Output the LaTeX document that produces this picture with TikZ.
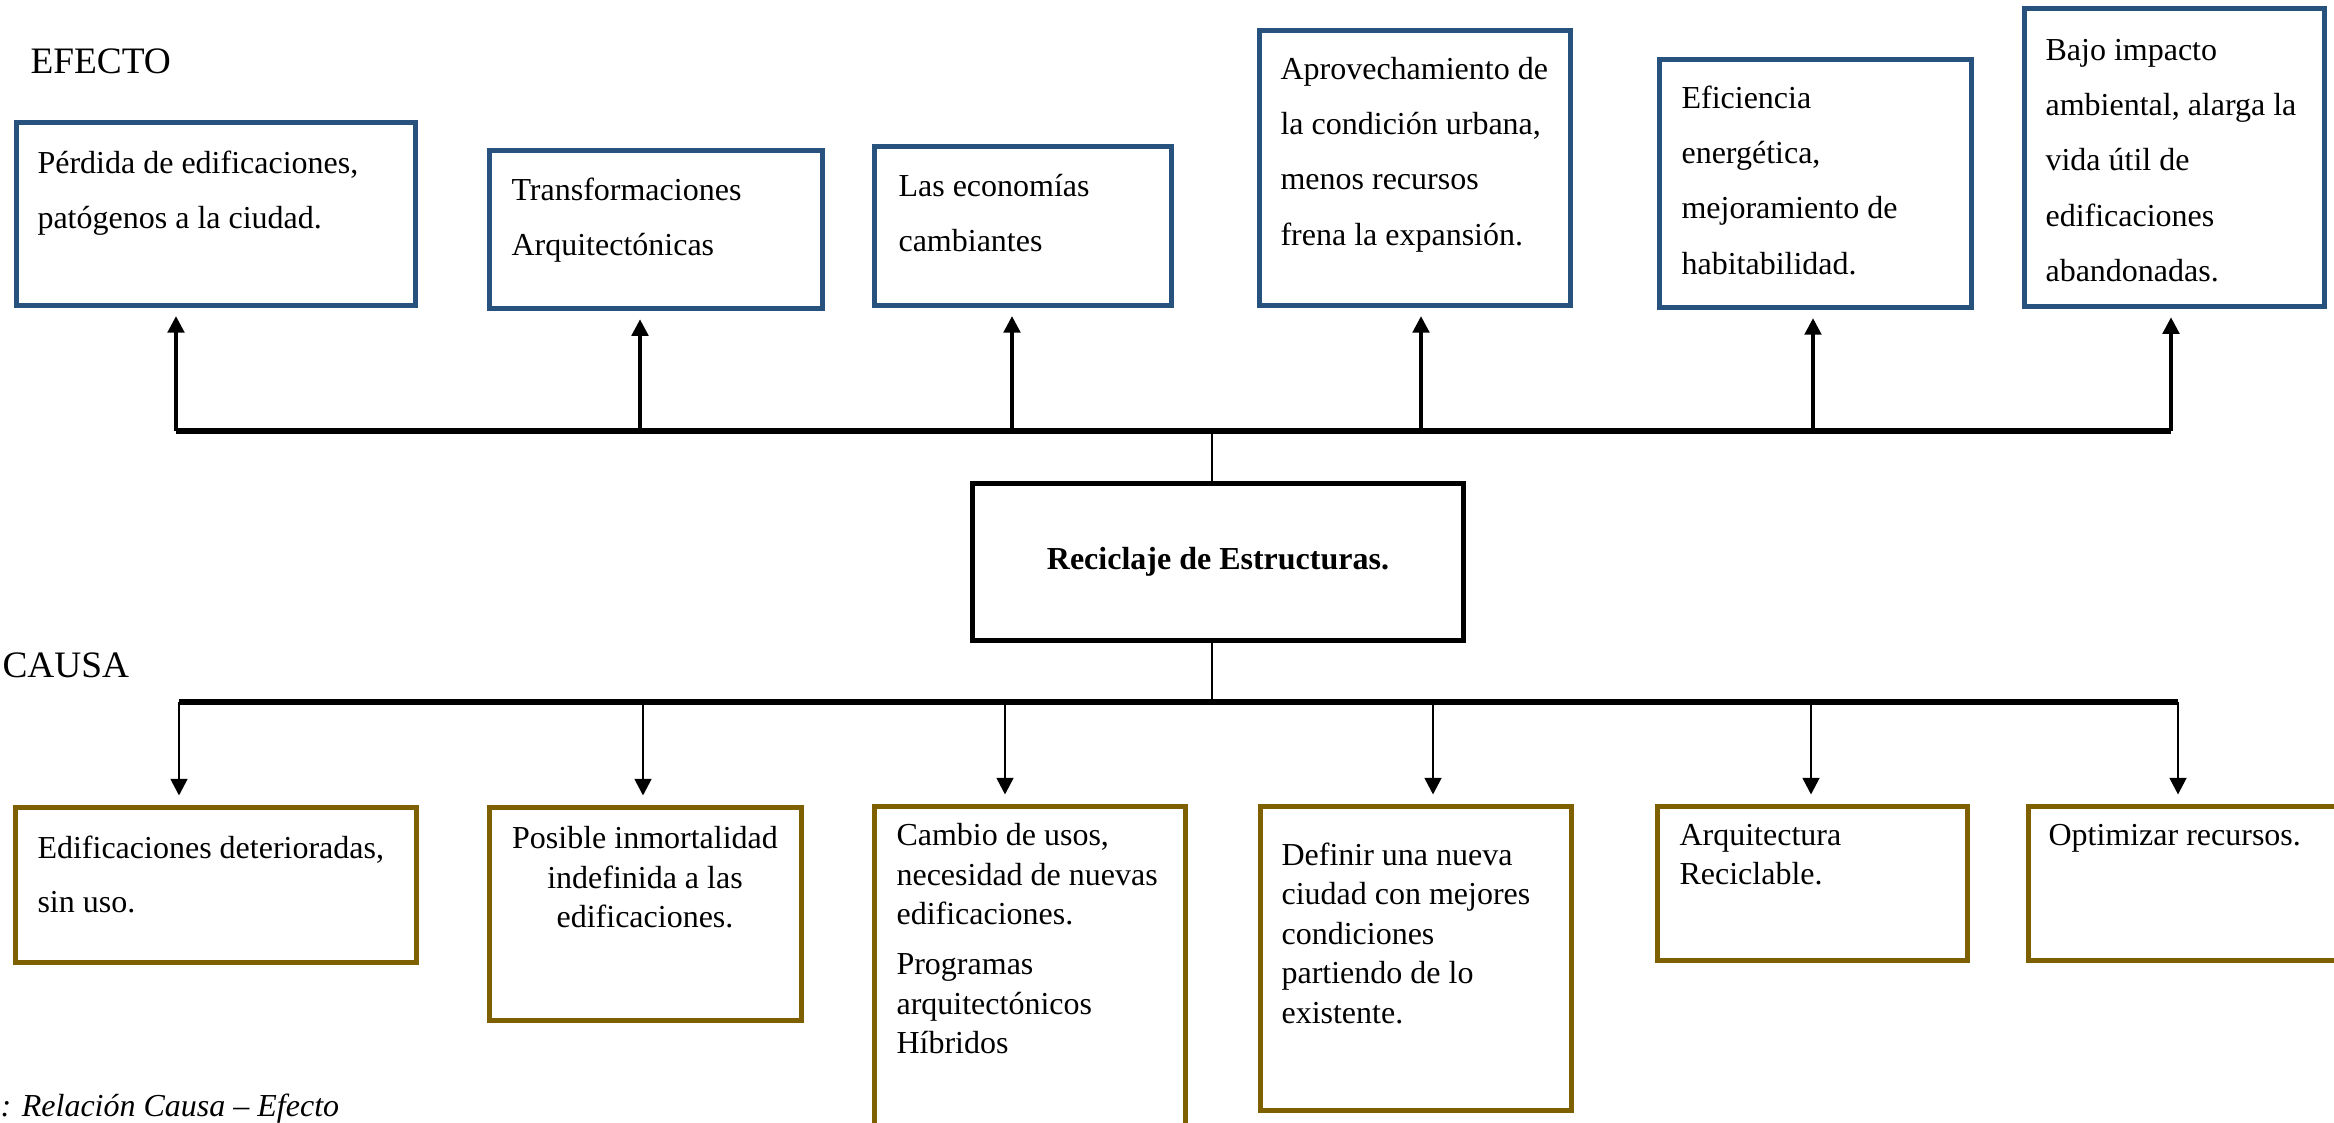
\documentclass[tikz,border=0pt]{standalone}
\usepackage{fontspec}
\setmainfont{Liberation Serif}
\usetikzlibrary{arrows.meta}

\definecolor{efblue}{RGB}{38,82,125}
\definecolor{caubrown}{RGB}{127,96,0}

\tikzset{
  effbox/.style={draw=efblue, line width=1.9pt, anchor=north west, inner sep=0pt, outer sep=0pt},
  caubox/.style={draw=caubrown, line width=1.9pt, anchor=north west, inner sep=0pt, outer sep=0pt},
  recbox/.style={draw, line width=1.9pt, anchor=north west, outer sep=0pt, font=\fontsize{12pt}{14pt}\selectfont\bfseries},
  efftext/.style={anchor=north west, inner sep=0pt, align=left, font=\fontsize{12pt}{20.7pt}\selectfont},
  cautext/.style={anchor=north west, inner sep=0pt, align=left, font=\fontsize{12pt}{14.8pt}\selectfont},
  title/.style={anchor=base west, inner sep=0pt, font=\fontsize{14pt}{16pt}\selectfont},
  caption/.style={anchor=base west, inner sep=0pt, font=\fontsize{12pt}{14pt}\selectfont\itshape},
  bar/.style={line width=2.2pt},
  stem/.style={line width=1pt},
  uparrow/.style={->, line width=1.3pt, shorten >=4pt},
  downarrow/.style={->, line width=1pt, shorten >=4.5pt}
}

\begin{document}
\begin{tikzpicture}[x=0.375pt, y=-0.375pt, >={Triangle[width=6.2pt,length=6.2pt]}]
  \useasboundingbox (0,0) rectangle (2334,1122);
  \clip (0,0) rectangle (2334,1122);

  % titulos
  \node[title] (efecto) at (30,73) {EFECTO};
  \node[title] (causa) at (2,677) {CAUSA};
  \node[caption] (leyenda) at (0,1116) {: Relación Causa – Efecto};

  % efectos
  \node[effbox, minimum width=149.6pt, minimum height=68.6pt] (e1) at (16.5,122.5) {};
  \node[effbox, minimum width=124.9pt, minimum height=59.3pt] (e2) at (489.5,150.5) {};
  \node[effbox, minimum width=111.4pt, minimum height=59.6pt] (e3) at (874.5,146.5) {};
  \node[effbox, minimum width=116.6pt, minimum height=103.1pt] (e4) at (1259.5,30.5) {};
  \node[effbox, minimum width=117pt, minimum height=93pt] (e5) at (1659.5,59.5) {};
  \node[effbox, minimum width=112.5pt, minimum height=111.8pt] (e6) at (2024.5,8.5) {};

  \node[efftext] (e1t) at (37,134.4) {\strut Pérdida de edificaciones,\\patógenos a la ciudad.};
  \node[efftext] (e2t) at (511,161.4) {\strut Transformaciones\\Arquitectónicas};
  \node[efftext] (e3t) at (898,157.4) {\strut Las economías\\cambiantes};
  \node[efftext] (e4t) at (1280,40.4) {\strut Aprovechamiento de\\la condición urbana,\\menos recursos\\frena la expansión.};
  \node[efftext] (e5t) at (1681,69.4) {\strut Eficiencia\\energética,\\mejoramiento de\\habitabilidad.};
  \node[efftext] (e6t) at (2045,21.4) {\strut Bajo impacto\\ambiental, alarga la\\vida útil de\\edificaciones\\abandonadas.};

  % problema central
  \node[recbox, minimum width=184.1pt, minimum height=58.9pt] (rec) at (972.5,483.5) {Reciclaje de Estructuras.};

  % causas
  \node[caubox, minimum width=150.4pt, minimum height=58.1pt] (c1) at (15.5,807.5) {};
  \node[caubox, minimum width=117pt, minimum height=79.9pt] (c2) at (489.5,807.5) {};
  \node[caubox, minimum width=116.6pt, minimum height=123.8pt] (c3) at (874.5,806.5) {};
  \node[caubox, minimum width=116.6pt, minimum height=114pt] (c4) at (1260.5,806.5) {};
  \node[caubox, minimum width=116.3pt, minimum height=57.8pt] (c5) at (1657.5,806.5) {};
  \node[caubox, minimum width=120pt, minimum height=57.8pt] (c6) at (2028.5,806.5) {};

  \node[cautext, font=\fontsize{12pt}{20.3pt}\selectfont] (c1t) at (37,820.2) {\strut Edificaciones deterioradas,\\sin uso.};
  \node[cautext, anchor=north, align=center] (c2t) at (645,820.4) {\strut Posible inmortalidad\\indefinida a las\\edificaciones.};
  \node[cautext] (c3t) at (896,817.7) {\strut Cambio de usos,\\necesidad de nuevas\\edificaciones.\\[4pt]Programas\\arquitectónicos\\Híbridos};
  \node[cautext] (c4t) at (1281,837) {\strut Definir una nueva\\ciudad con mejores\\condiciones\\partiendo de lo\\existente.};
  \node[cautext] (c5t) at (1679,817.3) {\strut Arquitectura\\Reciclable.};
  \node[cautext] (c6t) at (2048,817.3) {\strut Optimizar recursos.};

  % conectores efecto
  \foreach \i/\x in {1/176, 2/640, 3/1012, 4/1421, 5/1813, 6/2171}{
    \coordinate (u\i) at (\x,431);
    \draw[uparrow] (u\i) -- (u\i |- e\i.south);
  }
  \draw[bar] (u1) -- (u6);
  \coordinate (rtop) at (1212,431);
  \draw[stem] (rtop) -- (rtop |- rec.north);

  % conectores causa
  \foreach \i/\x in {1/179, 2/643, 3/1005, 4/1433, 5/1811, 6/2178}{
    \coordinate (d\i) at (\x,702);
    \draw[downarrow] (d\i) -- (d\i |- c\i.north);
  }
  \draw[bar] (d1) -- (d6);
  \coordinate (rbot) at (1212,702);
  \draw[stem] (rbot |- rec.south) -- (rbot);
\end{tikzpicture}
\end{document}
